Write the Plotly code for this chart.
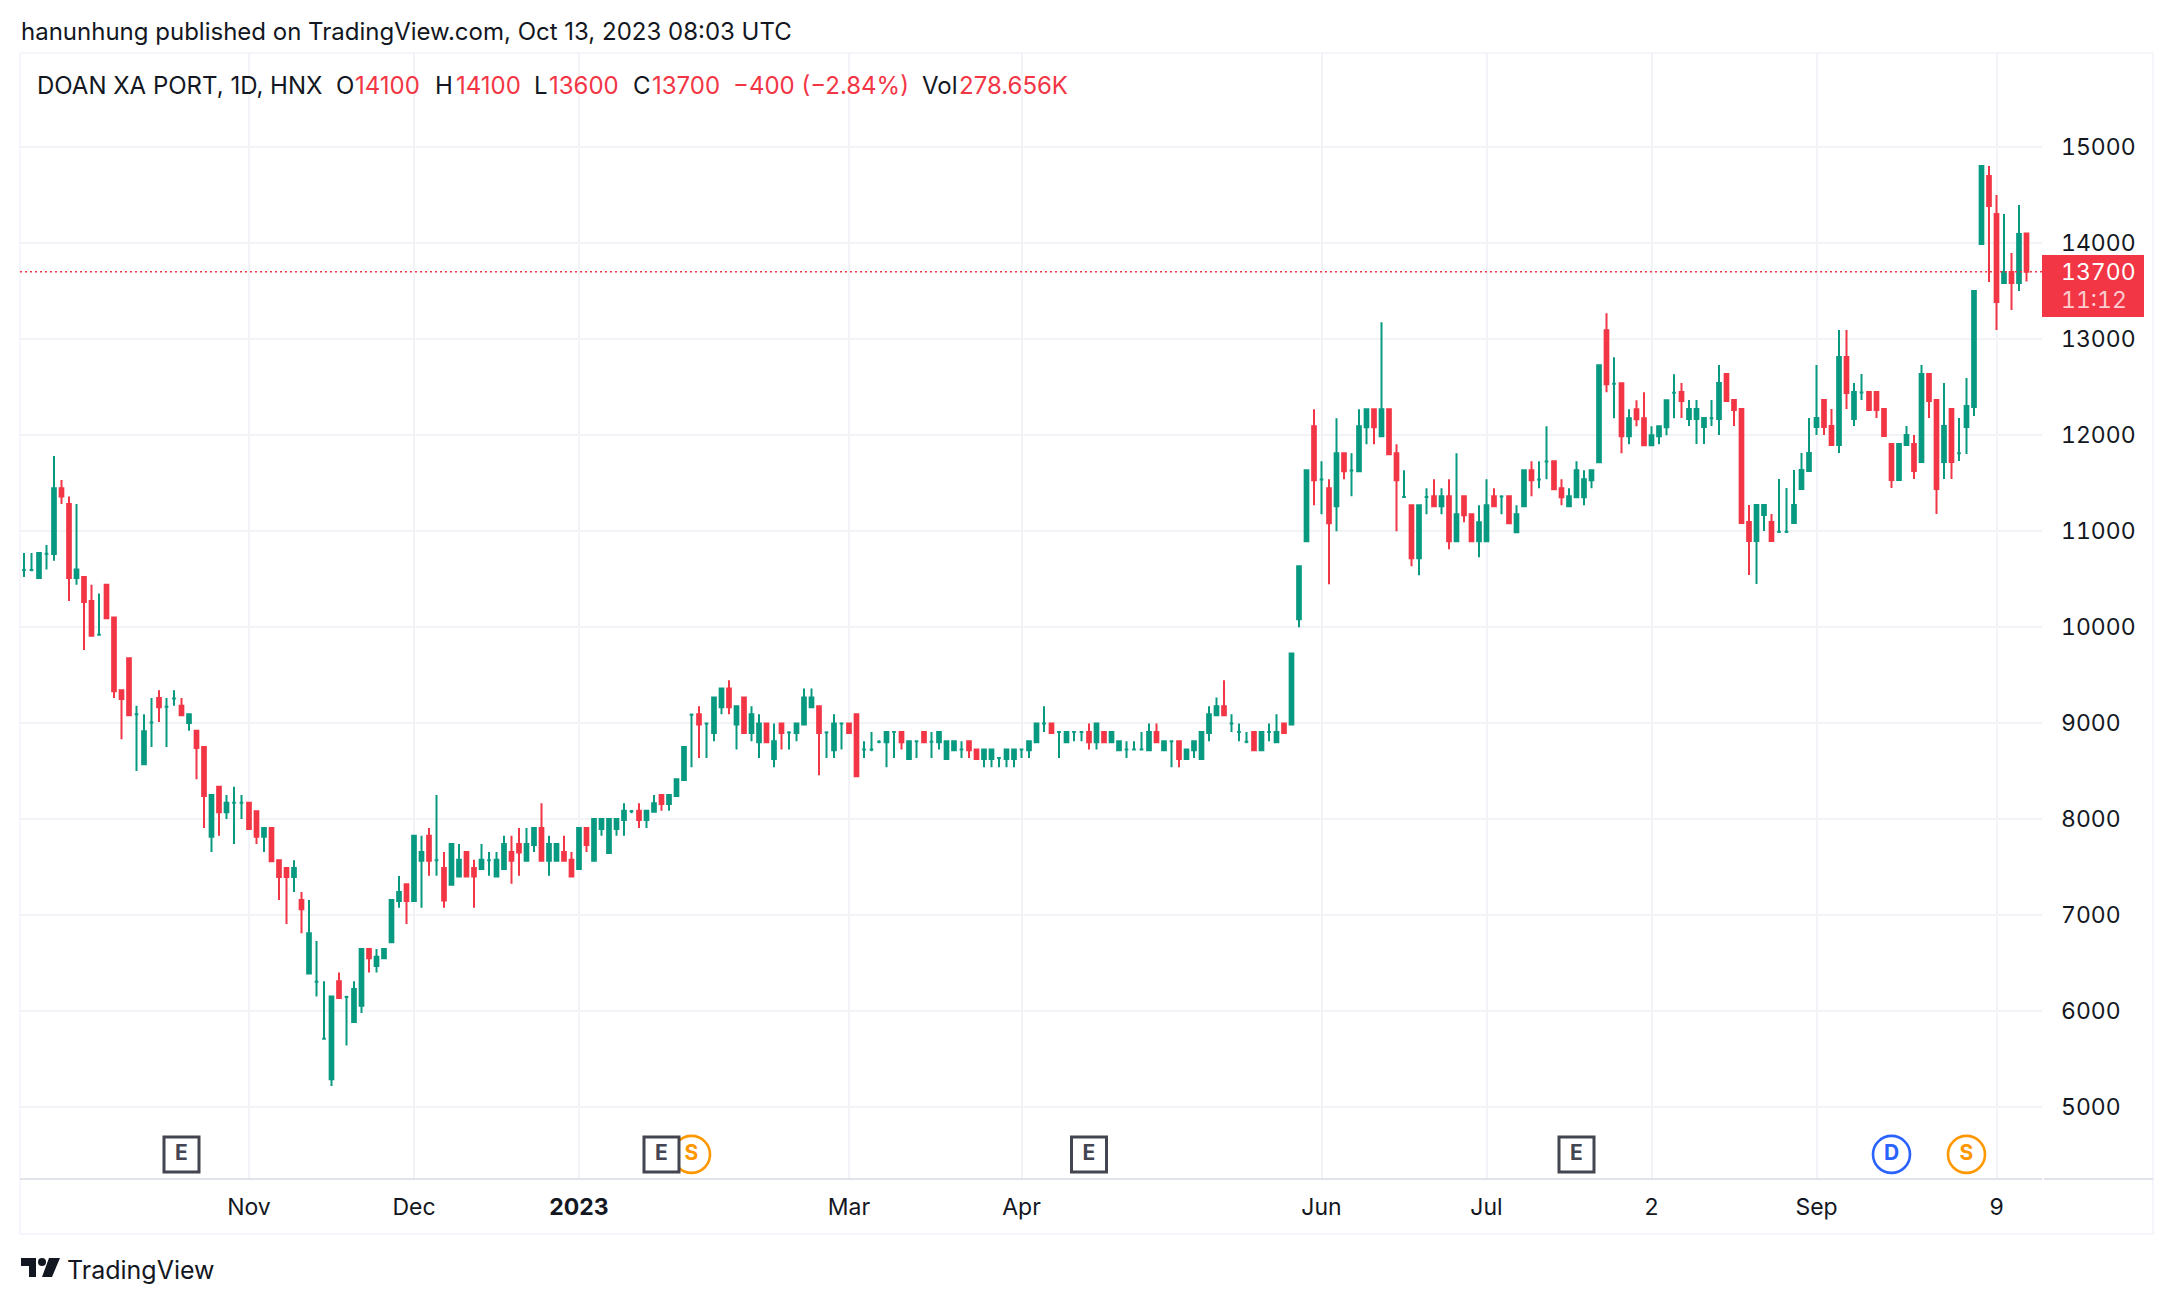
import plotly.graph_objects as go

OPEN = [
10595,10595,10510,10763,10760,11445,11280,10510,10520,10270,
9920,10440,10100,9340,9675,9090,8570,9005,9260,9170,
9255,9180,9000,8920,8750,7815,8335,8070,8170,8170,
8170,8080,7815,7905,7570,7490,7395,7155,6390,6305,
5710,5290,6310,6145,5885,6055,6645,6470,6550,6715,
7145,7320,7145,7565,7825,7570,7490,7315,7400,7655,
7490,7480,7570,7400,7480,7655,7740,7565,7730,7905,
7565,7565,7655,7575,7480,7905,7565,7895,7645,7895,
7990,8080,8085,7990,8075,8250,8155,8240,8405,9085,
9090,8995,8895,9165,9360,8985,9265,8895,8800,8995,
8625,8995,8900,8895,8985,9165,9175,8900,8715,8995,
8995,9090,8725,8725,8805,8800,8905,8905,8625,8810,
8905,8805,8800,8625,8715,8725,8810,8725,8625,8625,
8635,8625,8625,8725,8715,8800,8995,8995,8905,8800,
8905,8905,8905,8800,8905,8800,8715,8725,8725,8725,
8715,8905,8715,8810,8810,8625,8715,8625,8895,9080,
9175,8995,8905,8805,8905,8715,8905,8800,8995,8985,
10082,10894,12091,11536,11445,11258,11810,11629,11622,12080,
12268,11987,12268,11810,11355,11268,10717,11355,11362,11258,
11362,10894,11362,11175,10894,10894,11362,11359,11362,10987,
11258,11633,11536,11723,11726,11445,11258,11352,11352,11529,
11716,13090,12535,12538,11987,12268,12174,11893,11987,12080,
12441,12448,12167,12167,12084,12174,12167,12635,12365,12271,
11094,10896,11167,11094,10993,10993,11083,11438,11625,12084,
12365,12094,11896,12813,12167,12444,12448,12448,12271,11906,
11531,11896,11906,11719,12635,12365,11719,12271,11809,12084,
12292,13990,14698,14302,13583,13698,13583,14100]

HIGH = [
10770,10770,10770,10853,11780,11530,11360,11280,10520,10440,
10350,10440,10100,9340,9675,9180,9090,9260,9340,9260,
9340,9260,9090,8920,8750,8250,8335,8250,8335,8250,
8170,8080,7905,7905,7570,7490,7570,7240,7155,6730,
6310,6150,6400,6160,6310,6645,6645,6645,6645,7155,
7405,7320,7825,7825,7905,8250,7655,7740,7740,7655,
7575,7740,7655,7655,7825,7825,7905,7905,7905,8165,
7825,7740,7825,7655,7905,7905,8000,8000,8000,8000,
8165,8095,8165,8085,8250,8250,8250,8415,8750,9100,
9175,9005,9265,9360,9445,9175,9265,9175,9090,8995,
8995,8995,8915,8995,9360,9360,9175,8915,9090,9005,
8995,9090,8810,8905,8820,8905,8915,8905,8810,8820,
8905,8905,8905,8810,8810,8810,8810,8725,8725,8725,
8645,8725,8725,8735,8810,8995,9175,8995,8915,8905,
8915,8915,8995,8995,8905,8905,8810,8810,8810,8905,
8995,8995,8810,8820,8810,8725,8810,8905,9175,9265,
9445,9090,8995,8905,8905,8905,8995,9090,8995,9725,
10633,11633,12268,11726,11539,12174,11810,11810,12268,12268,
12268,13174,12268,11903,11633,11268,11268,11445,11539,11445,
11539,11810,11362,11175,11268,11539,11445,11373,11362,11268,
11633,11726,11726,12091,11726,11539,11445,11726,11633,11633,
12726,13267,12809,12538,12268,12362,12445,12091,12091,12362,
12632,12542,12365,12365,12177,12365,12729,12635,12365,12271,
11271,11271,11271,11177,11542,11448,11636,11813,12177,12729,
12365,12271,13094,13094,12542,12635,12448,12448,12271,11906,
11906,12094,12000,12729,12635,12365,12542,12271,12177,12594,
13500,14802,14802,14500,14302,13896,14396,14100]

LOW = [
10520,10580,10510,10600,10690,11280,10270,10440,9760,9910,
9910,10090,9260,8830,9080,8500,8570,8750,9010,8750,
9180,9080,8920,8415,7905,7655,7825,8000,7740,8000,
7895,7740,7655,7560,7155,6905,7240,6810,6390,6150,
5700,5220,6135,5640,5885,5980,6400,6400,6550,6715,
7075,6905,7145,7075,7410,7410,7075,7315,7400,7400,
7075,7480,7410,7400,7480,7325,7410,7565,7655,7565,
7410,7565,7565,7400,7480,7655,7565,7825,7645,7825,
7825,8060,7905,7905,8075,8085,8085,8240,8405,8540,
8635,8635,8810,9090,9090,8725,8895,8810,8635,8800,
8540,8725,8725,8810,8985,9165,8455,8635,8635,8725,
8895,8445,8635,8705,8790,8540,8635,8725,8625,8635,
8800,8635,8725,8625,8715,8635,8635,8625,8540,8540,
8540,8540,8540,8635,8635,8800,8905,8895,8635,8800,
8810,8810,8725,8725,8800,8800,8715,8635,8715,8715,
8715,8800,8715,8540,8540,8625,8635,8625,8810,9080,
9080,8905,8810,8790,8715,8715,8810,8800,8895,8985,
9998,10894,11268,11175,10446,10998,11539,11362,11622,11903,
11903,11987,11799,10998,11345,10633,10540,11175,11258,11175,
10810,10894,11092,10894,10727,10894,11258,11175,11081,10987,
11258,11362,11445,11539,11435,11268,11258,11352,11268,11445,
11716,12445,12174,11810,11903,12091,11893,11893,11903,11997,
12174,12177,12094,11906,11906,12094,12000,12354,12094,11083,
10542,10448,11000,10896,10979,10979,11083,11438,11625,12000,
12000,11896,11813,12271,12094,12365,12260,12177,11990,11448,
11531,11896,11542,11719,12177,11177,11542,11542,11729,11802,
12198,13990,13594,13094,13583,13302,13500,13600]

CLOSE = [
10595,10595,10770,10763,11445,11360,10510,10600,10260,9910,
9920,10090,9330,9250,9080,9090,8915,9005,9165,9170,
9255,9080,9090,8740,8240,8250,8070,8170,8170,8170,
7895,7815,7905,7560,7395,7395,7490,7060,6810,6305,
5710,6150,6135,6145,6230,6645,6550,6565,6645,7155,
7240,7145,7825,7655,7565,7570,7150,7740,7575,7400,
7400,7575,7570,7575,7740,7565,7650,7740,7905,7565,
7740,7740,7565,7400,7905,7730,8000,8000,8000,8000,
8085,8080,7990,8085,8165,8155,8250,8415,8750,9085,
8985,8995,9265,9360,9165,9175,8895,9090,8995,8800,
8810,8895,8900,8995,9265,9265,8895,8900,8995,8995,
8895,8445,8725,8725,8805,8905,8905,8800,8810,8810,
8800,8805,8905,8810,8810,8725,8715,8625,8725,8725,
8635,8725,8725,8725,8810,8995,8995,8895,8905,8905,
8905,8905,8800,8995,8800,8905,8810,8725,8725,8725,
8905,8800,8810,8810,8625,8725,8810,8905,9090,9175,
9080,8995,8905,8805,8715,8905,8905,8905,8895,9725,
10633,11633,11529,11536,11081,11810,11622,11629,12091,12268,
12080,12268,11799,11529,11355,10717,11268,11355,11258,11362,
10894,11175,11164,10894,11092,11268,11258,11359,11081,11175,
11633,11529,11536,11723,11435,11352,11362,11633,11539,11633,
12726,12528,12535,11987,12174,12164,11893,11997,12091,12362,
12441,12354,12271,12271,12177,12174,12542,12354,12260,11083,
10896,11271,11271,10896,10993,10993,11271,11636,11813,12177,
12084,11896,12813,12438,12448,12444,12260,12260,11990,11531,
11906,12000,11625,12635,12354,11438,12094,11719,11809,12302,
13500,14802,14385,13385,13698,13583,14094,13700]

TICK_BARS = [30, 52, 74, 110, 133, 173, 195, 217, 239, 263]
TICK_TEXT = ["Nov", "Dec", "<b>2023</b>", "Mar", "Apr", "Jun", "Jul", "2", "Sep", "9"]
PRICE_TICKS = list(range(5000, 15001, 1000))
LAST_PRICE = 13700
EARNINGS_BARS = [21, 85, 142, 207]
SPLIT_BARS = [89, 259]
DIVIDEND_BARS = [249]
EVENT_ROW_PRICE = 4506

GREEN, RED = "#089981", "#F23645"
TEXT = "#131722"
FONT = "Inter"
W, H = 2174, 1304
L, R, T, B = 20, 2042, 53, 1179
TNUM = '<span style="font-variant-numeric:tabular-nums">{}</span>'

n = len(OPEN)
assert len(HIGH) == n and len(LOW) == n and len(CLOSE) == n
bars = list(range(n))


def px(x):
    return (x - L) / (R - L)


def py(y):
    return 1 - (y - T) / (B - T)


fig = go.Figure()
for color, keep in ((GREEN, lambda i: CLOSE[i] >= OPEN[i]), (RED, lambda i: CLOSE[i] < OPEN[i])):
    idx = [i for i in bars if keep(i)]
    side = dict(line=dict(color=color, width=2), fillcolor=color)
    fig.add_trace(go.Candlestick(
        x=idx,
        open=[OPEN[i] for i in idx], high=[HIGH[i] for i in idx],
        low=[LOW[i] for i in idx], close=[CLOSE[i] for i in idx],
        increasing=side, decreasing=side, whiskerwidth=0, showlegend=False, hoverinfo="skip",
    ))


def events(x_vals, label, color, symbol, size, lw):
    fig.add_trace(go.Scatter(
        x=x_vals, y=[EVENT_ROW_PRICE] * len(x_vals), mode="markers+text",
        text=[label] * len(x_vals), textposition="middle center",
        textfont=dict(family=FONT, size=21, color=color, weight=700),
        marker=dict(symbol=symbol, size=size, color="#FFFFFF", line=dict(color=color, width=lw)),
        showlegend=False, hoverinfo="skip",
    ))


events(SPLIT_BARS, "S", "#FF9800", "circle", 37, 2.6)
events(DIVIDEND_BARS, "D", "#2962FF", "circle", 37, 2.6)
events(EARNINGS_BARS, "E", "#434651", "square", 35, 3)

shapes = []


def rect(x0, y0, x1, y1, **kw):
    shapes.append(dict(type="rect", xref="paper", yref="paper", x0=px(x0), x1=px(x1), y0=py(y0), y1=py(y1), **kw))


def seg(x0, y0, x1, y1, color, width):
    shapes.append(dict(type="line", xref="paper", yref="paper", x0=px(x0), x1=px(x1), y0=py(y0), y1=py(y1),
                       line=dict(color=color, width=width)))


FRAME = "#F0F3FA"
seg(20, 53, 2153, 53, FRAME, 1.5)
seg(20, 1234, 2153, 1234, FRAME, 1.5)
seg(20, 53, 20, 1234, FRAME, 1.5)
seg(2153, 53, 2153, 1234, FRAME, 1.5)
seg(20, 1179, 2042, 1179, "#E0E3EB", 2)
seg(2044, 1179, 2153, 1179, "#E0E3EB", 2)

shapes.append(dict(type="line", xref="paper", yref="y", x0=0, x1=1, y0=LAST_PRICE, y1=LAST_PRICE,
                   line=dict(color=RED, width=1.6, dash="2px,3px")))
rect(2042, 255, 2144, 317, fillcolor=RED, line=dict(width=0))

# TradingView logo
rect(21, 1258, 36, 1266, fillcolor=TEXT, line=dict(width=0))
rect(29, 1258, 36, 1277, fillcolor=TEXT, line=dict(width=0))
shapes.append(dict(type="circle", xref="paper", yref="paper", x0=px(38), x1=px(46), y0=py(1258), y1=py(1266),
                   fillcolor=TEXT, line=dict(width=0)))
shapes.append(dict(type="path", xref="paper", yref="paper",
                   path=f"M {px(49)} {py(1258)} L {px(60)} {py(1258)} L {px(52)} {py(1277)} L {px(42)} {py(1277)} Z",
                   fillcolor=TEXT, line=dict(width=0)))

annotations = []


def label(text, x, y, color=TEXT, size=24, anchor="left", **font):
    annotations.append(dict(text=text, xref="paper", yref="paper", x=px(x), y=py(y), xanchor=anchor, yanchor="middle",
                            showarrow=False, borderpad=0, font=dict(family=FONT, size=size, color=color, **font)))


label("hanunhung published on TradingView.com, Oct 13, 2023 08:03 UTC", 20, 32)
label("DOAN XA PORT, 1D, HNX", 36, 86)
for text, x, color in [("O", 335, TEXT), ("14100", 354, RED), ("H", 434, TEXT), ("14100", 455, RED),
                       ("L", 533, TEXT), ("13600", 548, RED), ("C", 632, TEXT), ("13700", 651, RED),
                       ("\u2212400 (\u22122.84%)", 732, RED), ("Vol", 921, TEXT), ("278.656K", 958, RED)]:
    label(text, x, 86, color)
label(TNUM.format(LAST_PRICE), 2060, 272, "#FFFFFF", size=23)
label(TNUM.format("11:12"), 2060, 300, "rgba(255,255,255,0.75)", size=23)
label("TradingView", 66, 1270, size=25)

fig.update_layout(
    width=W, height=H, autosize=False,
    margin=dict(l=L, r=W - R, t=T, b=H - B, pad=0),
    paper_bgcolor="#FFFFFF", plot_bgcolor="#FFFFFF",
    font=dict(family=FONT, color=TEXT, size=22),
    shapes=shapes, annotations=annotations,
    xaxis=dict(range=[(L - 24) / 7.5, (R - 24) / 7.5], rangeslider=dict(visible=False),
               tickmode="array", tickvals=TICK_BARS, ticktext=TICK_TEXT,
               showgrid=True, gridcolor="#F2F3F7", gridwidth=1.5, zeroline=False, showline=False, ticks="",
               ticklabelstandoff=12, tickfont=dict(family=FONT, size=23, color=TEXT)),
    yaxis=dict(side="right", range=[14000 - (B - 243) / 0.096, 14000 + (243 - T) / 0.096],
               tickmode="array", tickvals=PRICE_TICKS, ticktext=[TNUM.format(v) for v in PRICE_TICKS],
               showgrid=True, gridcolor="#F2F3F7", gridwidth=1.5, zeroline=False, showline=False, ticks="",
               ticklabelstandoff=18, tickfont=dict(family=FONT, size=23, color=TEXT)),
)

fig.write_html("out.html", config={"displayModeBar": False},
               post_script="document.body.style.margin='0';document.body.style.overflow='hidden';")
